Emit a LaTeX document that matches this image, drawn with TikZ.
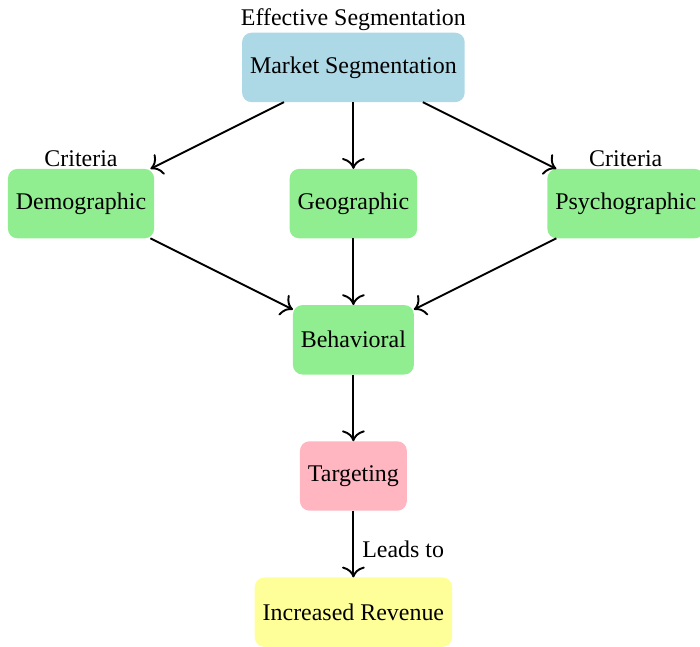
\documentclass[tikz,border=0pt]{standalone}
\usepackage{fontspec}
\setmainfont{Liberation Serif}
\usepackage{xcolor}
\usetikzlibrary{arrows.meta,positioning,calc}

\definecolor{segblue}{RGB}{173,216,230}
\definecolor{critgreen}{RGB}{144,238,144}
\definecolor{targetpink}{RGB}{255,182,193}
\definecolor{revyellow}{RGB}{255,255,153}

\begin{document}
\begin{tikzpicture}[
    node distance=0.98cm,
    box/.style={rectangle, rounded corners, align=center, minimum height=1.02cm, outer sep=0pt},
    segbox/.style={box, fill=segblue},
    critbox/.style={box, fill=critgreen},
    targetbox/.style={box, fill=targetpink},
    revbox/.style={box, fill=revyellow},
    tag/.style={inner sep=0.6pt},
    arrow/.style={-{To[scale=1.35]}, thick}
]
    \useasboundingbox (-5.19,0.99) rectangle (5.09,-8.5);

    \node [segbox, label={[tag]above:Effective Segmentation}] (market) at (0,0) {Market Segmentation};

    \node [critbox, label={[tag]above:Criteria}] (demo) at (-4,-2) {Demographic};
    \node [critbox, below=of market] (geo) {Geographic};
    \node [critbox, label={[tag]above:Criteria}] (psycho) at (4,-2) {Psychographic};

    \node [critbox, below=of geo] (behav) {Behavioral};
    \node [targetbox, below=of behav] (target) {Targeting};
    \node [revbox, below=of target] (revenue) {Increased Revenue};

    \draw [arrow] (market) -- (demo);
    \draw [arrow] (market) -- (geo);
    \draw [arrow] (market) -- (psycho);
    \draw [arrow] (demo) -- (behav);
    \draw [arrow] (geo) -- (behav);
    \draw [arrow] (psycho) -- (behav);
    \draw [arrow] (behav) -- (target);
    \draw [arrow] (target) -- node[right, yshift=-2pt] {Leads to} (revenue);
\end{tikzpicture}
\end{document}
